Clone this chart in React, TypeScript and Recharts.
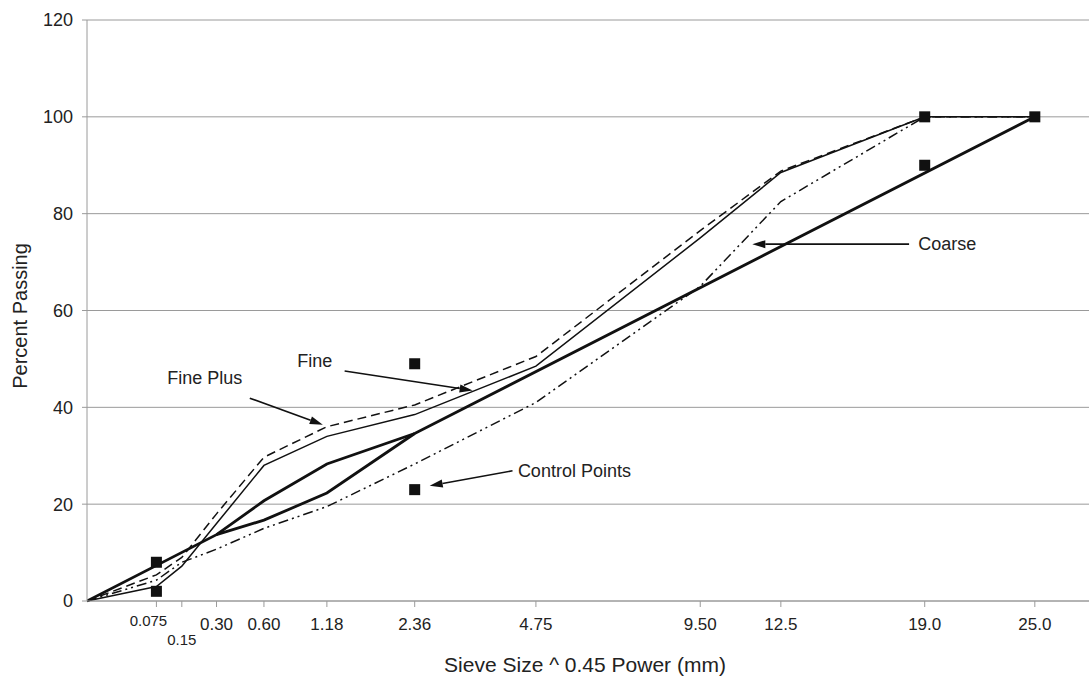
import React from "react";
import {
  ComposedChart,
  Line,
  Scatter,
  XAxis,
  YAxis,
  CartesianGrid,
  ReferenceLine,
  ReferenceDot,
  Label,
} from "recharts";

// x axis is sieve size raised to the 0.45 power
const POWER = 0.45;
const toX = (mm: number) => Math.pow(mm, POWER);

const sieveSizes = [0.075, 0.15, 0.3, 0.6, 1.18, 2.36, 4.75, 9.5, 12.5, 19.0, 25.0];
const sieveLabels = ["0.075", "0.15", "0.30", "0.60", "1.18", "2.36", "4.75", "9.50", "12.5", "19.0", "25.0"];

const gradSizes = [0, 0.075, 0.15, 0.3, 0.6, 1.18, 2.36, 4.75, 9.5, 12.5, 19.0, 25.0];
const finePassing = [0, 3, 7.2, 16, 28, 34, 38.5, 48.5, 75, 88.5, 100, 100];
const finePlusPassing = [0, 5.4, 9, 18, 29.7, 36, 40.5, 50.5, 76.5, 88.8, 100, 100];
const coarsePassing = [0, 4.3, 8, 10.7, 15, 19.5, 28.3, 41, 65, 82.5, 100, 100];

// maximum density line, running along the upper edge of the restricted zone
const mdlSizes = [0, 0.3, 0.6, 1.18, 2.36, 25.0];
const mdlPassing = [0, 13.7, 20.7, 28.3, 34.6, 100];

// lower edge of the restricted zone
const rzSizes = [0.3, 0.6, 1.18, 2.36];
const rzLower = [13.7, 16.7, 22.3, 34.6];

// control points
const cpSizes = [0.075, 0.075, 2.36, 2.36, 19.0, 19.0, 25.0];
const cpPassing = [2, 8, 23, 49, 90, 100, 100];

const yTicks = [0, 20, 40, 60, 80, 100, 120];

const toPts = (sizes: number[], vals: number[]) =>
  sizes.map((s, i) => ({ x: toX(s), y: vals[i] }));

const fine = toPts(gradSizes, finePassing);
const finePlus = toPts(gradSizes, finePlusPassing);
const coarse = toPts(gradSizes, coarsePassing);
const mdl = toPts(mdlSizes, mdlPassing);
const rzLo = toPts(rzSizes, rzLower);
const controlPts = toPts(cpSizes, cpPassing);
const xTicks = sieveSizes.map(toX);

// annotation positions in chart units (x = size^0.45, y = percent)
const notes = [
  { text: "Fine Plus", tx: 0.529, ty: 46, ax1: 0.731, ay1: 41.9, ax2: 1.059, ay2: 36.4 },
  { text: "Fine", tx: 1.023, ty: 49.6, ax1: 1.157, ay1: 47.5, ax2: 1.732, ay2: 43.5 },
  { text: "Control Points", tx: 2.189, ty: 26.9, ax1: 1.911, ay1: 26.9, ax2: 1.539, ay2: 23.8 },
  { text: "Coarse", tx: 3.863, ty: 73.7, ax1: 3.692, ay1: 73.7, ax2: 2.988, ay2: 73.7 },
];

const FONT = "'Liberation Sans', Arial, sans-serif";
const INK = "#111";
const GRID = "#9a9a9a";

function SieveTick(props: any) {
  const { x, y, payload } = props;
  const i = xTicks.findIndex((t) => Math.abs(t - payload.value) < 1e-6);
  const label = sieveLabels[i] ?? "";
  let dx = 0;
  let dy = 21;
  let size = 17;
  if (label === "0.075") {
    dx = -8;
    dy = 17;
    size = 15;
  } else if (label === "0.15") {
    dy = 36;
    size = 15;
  }
  return (
    <text x={x + dx} y={y + dy} textAnchor="middle" fontSize={size} fill="#222" fontFamily={FONT}>
      {label}
    </text>
  );
}

function Arrow(props: any) {
  const { x1, y1, x2, y2 } = props;
  const ang = Math.atan2(y2 - y1, x2 - x1);
  const len = 13;
  const half = 4;
  const bx = x2 - len * Math.cos(ang);
  const by = y2 - len * Math.sin(ang);
  const px = -Math.sin(ang) * half;
  const py = Math.cos(ang) * half;
  return (
    <g>
      <line x1={x1} y1={y1} x2={bx} y2={by} stroke={INK} strokeWidth={1.6} />
      <polygon points={`${x2},${y2} ${bx + px},${by + py} ${bx - px},${by - py}`} fill={INK} />
    </g>
  );
}

function Square(props: any) {
  const { cx, cy } = props;
  return <rect x={cx - 5.5} y={cy - 5.5} width={11} height={11} fill={INK} />;
}

export default function App() {
  return (
    <div
      style={{
        position: "absolute",
        left: 0,
        top: 0,
        width: 1089,
        height: 688,
        background: "#fff",
        fontFamily: FONT,
      }}
    >
      <ComposedChart width={1089} height={688} margin={{ top: 20, right: 0, bottom: 0, left: 0 }}>
        <CartesianGrid vertical={false} stroke={GRID} />
        <XAxis
          type="number"
          dataKey="x"
          domain={[0, 4.5]}
          ticks={xTicks}
          interval={0}
          tick={<SieveTick />}
          tickSize={6}
          height={87}
          stroke={GRID}
          allowDataOverflow
        >
          <Label
            content={() => (
              <text x={585} y={672} textAnchor="middle" fontSize={21} fill="#222" fontFamily={FONT}>
                Sieve Size ^ 0.45 Power (mm)
              </text>
            )}
          />
        </XAxis>
        <YAxis
          type="number"
          dataKey="y"
          domain={[0, 120]}
          ticks={yTicks}
          interval={0}
          width={87}
          tickSize={5}
          tickMargin={9}
          stroke={GRID}
          tick={{ fill: "#222", fontSize: 18, fontFamily: FONT }}
        >
          <Label
            content={() => (
              <text
                x={27}
                y={316}
                transform="rotate(-90 27 316)"
                textAnchor="middle"
                fontSize={20}
                fill="#222"
                fontFamily={FONT}
              >
                Percent Passing
              </text>
            )}
          />
        </YAxis>

        <Line data={coarse} dataKey="y" stroke={INK} strokeWidth={1.5} strokeDasharray="10 4 2 4 2 4" dot={false} activeDot={false} isAnimationActive={false} />
        <Line data={finePlus} dataKey="y" stroke={INK} strokeWidth={1.5} strokeDasharray="9 5" dot={false} activeDot={false} isAnimationActive={false} />
        <Line data={fine} dataKey="y" stroke={INK} strokeWidth={1.5} dot={false} activeDot={false} isAnimationActive={false} />
        <Line data={mdl} dataKey="y" stroke={INK} strokeWidth={2.8} dot={false} activeDot={false} isAnimationActive={false} />
        <Line data={rzLo} dataKey="y" stroke={INK} strokeWidth={2.8} dot={false} activeDot={false} isAnimationActive={false} />
        <Scatter data={controlPts} dataKey="y" shape={<Square />} isAnimationActive={false} />

        {notes.map((n) => (
          <ReferenceLine
            key={n.text + "-arrow"}
            segment={[
              { x: n.ax1, y: n.ay1 },
              { x: n.ax2, y: n.ay2 },
            ]}
            shape={(p: any) => <Arrow {...p} />}
          />
        ))}
        {notes.map((n) => (
          <ReferenceDot
            key={n.text + "-text"}
            x={n.tx}
            y={n.ty}
            r={0}
            shape={(p: any) => (
              <text
                x={p.cx}
                y={p.cy}
                textAnchor="middle"
                dominantBaseline="central"
                fontSize={18}
                fill="#222"
                fontFamily={FONT}
              >
                {n.text}
              </text>
            )}
          />
        ))}
      </ComposedChart>
    </div>
  );
}
